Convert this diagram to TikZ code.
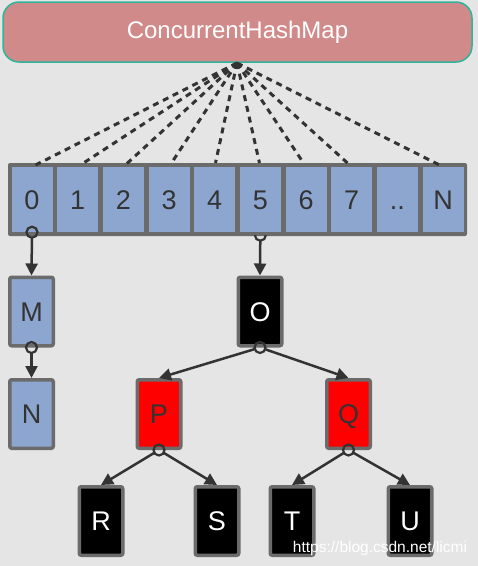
\documentclass[tikz,border=0pt]{standalone}
\usepackage{fontspec}
\setmainfont{Liberation Sans}
\usetikzlibrary{arrows.meta}
\definecolor{bggray}{HTML}{E5E5E5}
\definecolor{mappink}{HTML}{D08A89}
\definecolor{mapteal}{HTML}{2DB59C}
\definecolor{cellblue}{HTML}{8CA6CF}
\definecolor{boxgray}{HTML}{6B6B6B}
\definecolor{linkgray}{HTML}{333333}
\definecolor{redbox}{HTML}{FF0000}

\begin{document}
\begin{tikzpicture}[x=1pt,y=-1pt,
    box/.style={draw=boxgray,line width=3.5pt,rounded corners=2pt,minimum width=43.5pt,
      minimum height=68.5pt,inner sep=0pt,text height=19.5pt,text depth=0pt,
      font=\fontsize{27}{27}\selectfont},
    cell/.style={fill=cellblue,minimum width=41pt,minimum height=65pt,inner sep=0pt,
      text height=19.5pt,text depth=0pt,text=linkgray,font=\fontsize{27}{27}\selectfont},
    link/.style={draw=linkgray,line width=2.5pt,-{Triangle[length=12pt,width=12pt]}},
    knob/.style={draw=linkgray,line width=2.2pt},
    ptr/.style={draw=linkgray,line width=3pt,dash pattern=on 6pt off 5pt}]
      \fill[bggray] (0,0) rectangle (478,566);
      \useasboundingbox (0,0) rectangle (478,566);
      % hash map header
      \node[draw=mapteal,fill=mappink,line width=1.5pt,rounded corners=16pt,
            minimum width=469pt,minimum height=60pt,text=white,
            font=\fontsize{24}{24}\selectfont] (map) at (237.5,32) {ConcurrentHashMap};
      % table
      \node[fill=boxgray,rounded corners=2pt,minimum width=459pt,minimum height=73pt] (table) at (237.5,199.5) {};
      \foreach \i/\t in {0/0,1/1,2/2,3/3,4/4,5/5,6/6,7/7,8/..,9/N}
        \node[cell] (c\i) at (32+45.67*\i,199.5) {\t};
      \coordinate (apex) at (237,63);
      \foreach \i in {0,...,7,9}
        \draw[ptr,shorten >=4pt] (apex) -- (c\i.north);
      % list in bucket 0
      \node[box,fill=cellblue,text=linkgray] (M) at (31.5,311.5) {M};
      \node[box,fill=cellblue,text=linkgray] (N) at (31.5,414) {N};
      % tree in bucket 5
      \node[box,fill=black,text=white] (O) at (260,311.5) {O};
      \node[box,fill=redbox,text=linkgray] (P) at (159,414) {P};
      \node[box,fill=redbox,text=linkgray] (Q) at (348.5,414) {Q};
      \node[box,fill=black,text=white] (R) at (101,521) {R};
      \node[box,fill=black,text=white] (S) at (217,521) {S};
      \node[box,fill=black,text=white] (T) at (292,521) {T};
      \node[box,fill=black,text=white] (U) at (410,521) {U};
      % links
      \draw[knob] (c0.south) circle (5.5pt);
      \draw[link,shorten <=5.5pt] (c0.south) -- (M.north);
      \draw[knob] (M.south) circle (5.5pt);
      \draw[link,shorten <=5.5pt] (M.south) -- (N.north);
      \draw[knob] (c5.south) ++(-5.5,3) arc (180:0:5.5);
      \draw[link,shorten <=8.5pt] (c5.south) -- (O.north);
      \draw[knob] (O.south) circle (5.5pt);
      \draw[link,shorten <=5.5pt] (O.south) -- (P.north);
      \draw[link,shorten <=5.5pt] (O.south) -- (Q.north);
      \draw[knob] (P.south) circle (5.5pt);
      \draw[link,shorten <=5.5pt] (P.south) -- (R.north);
      \draw[link,shorten <=5.5pt] (P.south) -- (S.north);
      \draw[knob] (Q.south) circle (5.5pt);
      \draw[link,shorten <=5.5pt] (Q.south) -- (T.north);
      \draw[link,shorten <=5.5pt] (Q.south) -- (U.north);
      \node[text=white,font=\fontsize{15.5}{15.5}\selectfont] (wm) at (380,548) {https://blog.csdn.net/licmi};
\end{tikzpicture}
\end{document}
